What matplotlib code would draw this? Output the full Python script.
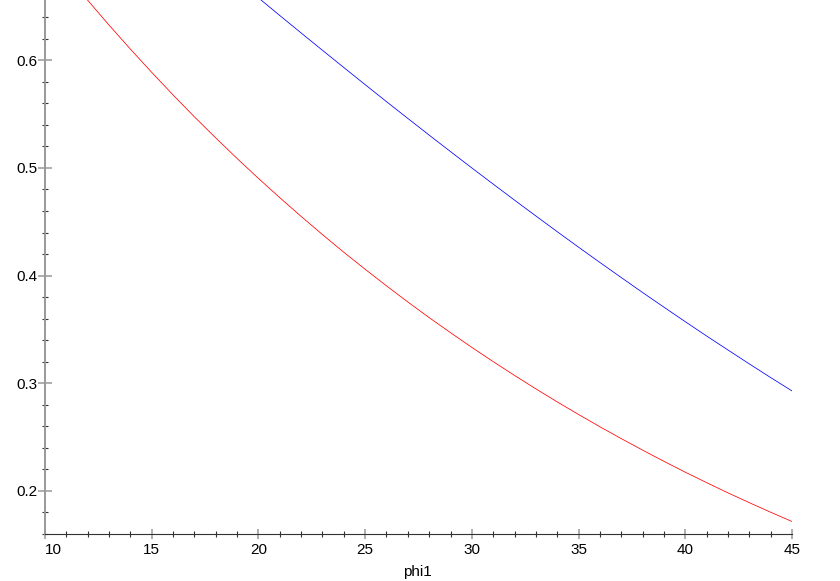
import matplotlib
matplotlib.use("Agg")
import matplotlib.pyplot as plt
from matplotlib.ticker import MultipleLocator

plt.rcParams['font.family'] = ['Liberation Sans', 'DejaVu Sans']

# values, one per degree of phi1
phi1 = list(range(10, 46))
red_vals = [0.7041, 0.6795, 0.6558, 0.6327, 0.6104, 0.5888, 0.5678, 0.5475, 0.5279, 0.5088,
            0.4903, 0.4724, 0.4550, 0.4381, 0.4217, 0.4059, 0.3905, 0.3755, 0.3610, 0.3470,
            0.3333, 0.3201, 0.3073, 0.2948, 0.2827, 0.2710, 0.2596, 0.2486, 0.2379, 0.2275,
            0.2174, 0.2077, 0.1982, 0.1891, 0.1802, 0.1716]
blue_vals = [0.8264, 0.8092, 0.7921, 0.7750, 0.7581, 0.7412, 0.7244, 0.7076, 0.6910, 0.6744,
             0.6580, 0.6416, 0.6254, 0.6093, 0.5933, 0.5774, 0.5616, 0.5460, 0.5305, 0.5152,
             0.5000, 0.4850, 0.4701, 0.4554, 0.4408, 0.4264, 0.4122, 0.3982, 0.3843, 0.3707,
             0.3572, 0.3439, 0.3309, 0.3180, 0.3053, 0.2929]
xticks = [10, 15, 20, 25, 30, 35, 40, 45]
yticks = [0.2, 0.3, 0.4, 0.5, 0.6]

W, H = 840, 581
fig = plt.figure(figsize=(W / 100, H / 100), dpi=100)
ax = fig.add_axes([45 / W, 1 - 534 / H, (792 - 45) / W, 534 / H])

ax.plot(phi1, red_vals, color='red', lw=0.55)
ax.plot(phi1, blue_vals, color='blue', lw=0.55)

ax.set_xlim(10, 45)
ax.set_ylim(0.16, 0.656)

for s in ['top', 'right']:
    ax.spines[s].set_visible(False)
ax.spines['left'].set_color('#999999')
ax.spines['left'].set_linewidth(1.4)
ax.spines['bottom'].set_color('#333333')
ax.spines['bottom'].set_linewidth(0.8)

ax.set_xticks(xticks)
ax.set_xticklabels([str(t) for t in xticks])
ax.set_yticks(yticks)
ax.set_yticklabels([f"{t:.1f}" for t in yticks])
ax.xaxis.set_minor_locator(MultipleLocator(1))
ax.yaxis.set_minor_locator(MultipleLocator(0.02))

ax.tick_params(axis='x', which='major', direction='inout', length=7.5, width=1.1,
               color='#999999', labelsize=11, pad=3)
ax.tick_params(axis='x', which='minor', direction='inout', length=4, width=0.8,
               color='#333333')
ax.tick_params(axis='y', which='major', direction='inout', length=9.5, width=1.1,
               color='#999999', labelsize=11, pad=0.5)
ax.tick_params(axis='y', which='minor', direction='inout', length=4.3, width=0.8,
               color='#333333')

# first x label sits just right of the axis, as in the reference
ax.get_xticklabels()[0].set_horizontalalignment('left')

fig.text(417 / W, 1 - 572 / H, 'phi1', ha='center', va='center', fontsize=11)

fig.savefig('out.png', dpi=100)
